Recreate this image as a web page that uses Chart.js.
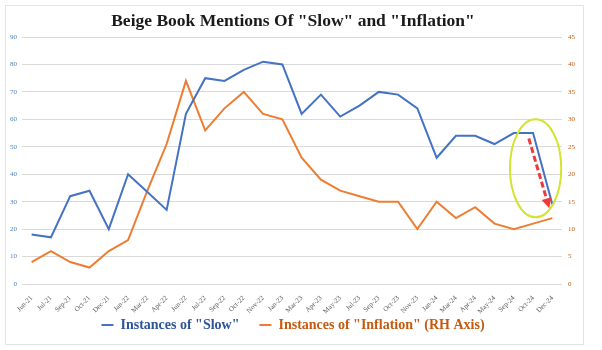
<!DOCTYPE html>
<html><head><meta charset="utf-8">
<script src="https://cdn.jsdelivr.net/npm/chart.js@4"></script>
<style>html,body{margin:0;padding:0;background:#fff;}#wrap{width:602px;height:350px;}</style>
</head><body><div id="wrap"><canvas id="c" width="602" height="350"></canvas></div>
<script>
const categories = ["Jun-21","Jul-21","Sep-21","Oct-21","Dec-21","Jan-22","Mar-22","Apr-22","Jun-22","Jul-22","Sep-22","Oct-22","Nov-22","Jan-23","Mar-23","Apr-23","May-23","Jul-23","Sep-23","Oct-23","Nov-23","Jan-24","Mar-24","Apr-24","May-24","Sep-24","Oct-24","Dec-24"];
const slowValues = [18,17,32,34,20,40,33.5,27,62,75,74,78,81,80,62,69,61,65,70,69,64,46,54,54,51,55,55,29];
const inflationValues = [4,6,4,3,6,8,17,25.5,37,28,32,35,31,30,23,19,17,16,15,15,10,15,12,14,11,10,11,12];
const leftAxis = {min:0, max:90, step:10};
const rightAxis = {min:0, max:45, step:5};
const titleText = 'Beige Book Mentions Of "Slow" and "Inflation"';
const legendLabels = ['Instances of "Slow"', 'Instances of "Inflation" (RH Axis)'];
// highlight annotation in data units (category index, left-axis value)
const ellipseBox = {x0:24.8, x1:27.46, yTop:60, yBottom:24.3};
const arrowFrom = {x:25.78, y:53};
const arrowTo = {x:26.84, y:27.6};

const SERIF = "'Liberation Serif', 'Times New Roman', serif";

const decor = {
  id:'decor',
  beforeDraw(chart){
    const c = chart.ctx;
    c.save(); c.strokeStyle='#E3E3E3'; c.lineWidth=1;
    c.strokeRect(5.5,5.5,578,339); c.restore();
  },
  afterDatasetsDraw(chart){
    const c = chart.ctx, xs = chart.scales.x, ys = chart.scales.y;
    const px = i => xs.getPixelForValue(0) + i*(xs.getPixelForValue(1)-xs.getPixelForValue(0));
    const x0 = px(ellipseBox.x0), x1 = px(ellipseBox.x1);
    const yt = ys.getPixelForValue(ellipseBox.yTop), yb = ys.getPixelForValue(ellipseBox.yBottom);
    c.save();
    c.strokeStyle='#D2E330'; c.lineWidth=2;
    c.beginPath(); c.ellipse((x0+x1)/2,(yt+yb)/2,(x1-x0)/2,(yb-yt)/2,0,0,Math.PI*2); c.stroke();
    const ax = px(arrowFrom.x), ay = ys.getPixelForValue(arrowFrom.y);
    const bx = px(arrowTo.x), by = ys.getPixelForValue(arrowTo.y);
    const ang = Math.atan2(by-ay,bx-ax);
    const hl = 10;
    const ex = bx - hl*Math.cos(ang), ey = by - hl*Math.sin(ang);
    c.strokeStyle='#F03A3A'; c.lineWidth=3; c.setLineDash([6,3]);
    c.beginPath(); c.moveTo(ax,ay); c.lineTo(ex,ey); c.stroke();
    c.setLineDash([]); c.fillStyle='#F03A3A';
    c.beginPath(); c.moveTo(bx,by);
    c.lineTo(ex+5*Math.cos(ang+Math.PI/2), ey+5*Math.sin(ang+Math.PI/2));
    c.lineTo(ex+5*Math.cos(ang-Math.PI/2), ey+5*Math.sin(ang-Math.PI/2));
    c.closePath(); c.fill();
    c.restore();
  }
};

new Chart(document.getElementById('c'), {
  type:'line',
  data:{
    labels: categories,
    datasets:[
      {label:legendLabels[0], data:slowValues, yAxisID:'y', borderColor:'#4472C4', backgroundColor:'#4472C4', borderWidth:2, pointRadius:0, tension:0},
      {label:legendLabels[1], data:inflationValues, yAxisID:'y1', borderColor:'#ED7D31', backgroundColor:'#ED7D31', borderWidth:2, pointRadius:0, tension:0}
    ]
  },
  options:{
    responsive:false, animation:false, devicePixelRatio:1,
    layout:{padding:{left:6,right:22,top:0,bottom:8}},
    plugins:{
      title:{display:true, text:titleText, color:'#1A1A1A', font:{family:SERIF, size:17.5, weight:'bold'}, padding:{top:11,bottom:5}},
      legend:{
        position:'bottom',
        labels:{
          usePointStyle:true, pointStyle:'line', pointStyleWidth:12, padding:20,
          font:{family:SERIF, size:14, weight:'bold'},
          generateLabels(chart){
            const txt = ['#2F5597','#C55A11'];
            return chart.data.datasets.map((d,i)=>({
              text:d.label, fillStyle:d.borderColor, strokeStyle:d.borderColor, lineWidth:2,
              pointStyle:'line', fontColor:txt[i], datasetIndex:i, hidden:false
            }));
          }
        }
      },
      tooltip:{enabled:false}
    },
    scales:{
      x:{
        offset:true,
        grid:{display:false}, border:{display:false},
        ticks:{autoSkip:false, minRotation:45, maxRotation:45, padding:2, color:'#595959', font:{family:SERIF, size:7}},
        afterFit(s){ s.height = 14; s._computeLabelArea = () => undefined; }
      },
      y:{
        position:'left', min:leftAxis.min, max:leftAxis.max,
        grid:{color:'#D9D9D9', drawTicks:false}, border:{display:false},
        ticks:{stepSize:leftAxis.step, padding:5, color:'#4F81BD', font:{family:SERIF, size:7}},
        afterFit(s){ s.width = 16; }
      },
      y1:{
        position:'right', min:rightAxis.min, max:rightAxis.max,
        grid:{display:false, drawTicks:false}, border:{display:false},
        ticks:{stepSize:rightAxis.step, padding:6, color:'#C55A11', font:{family:SERIF, size:7}},
        afterFit(s){ s.width = 18; }
      }
    }
  },
  plugins:[decor]
});
</script></body></html>
